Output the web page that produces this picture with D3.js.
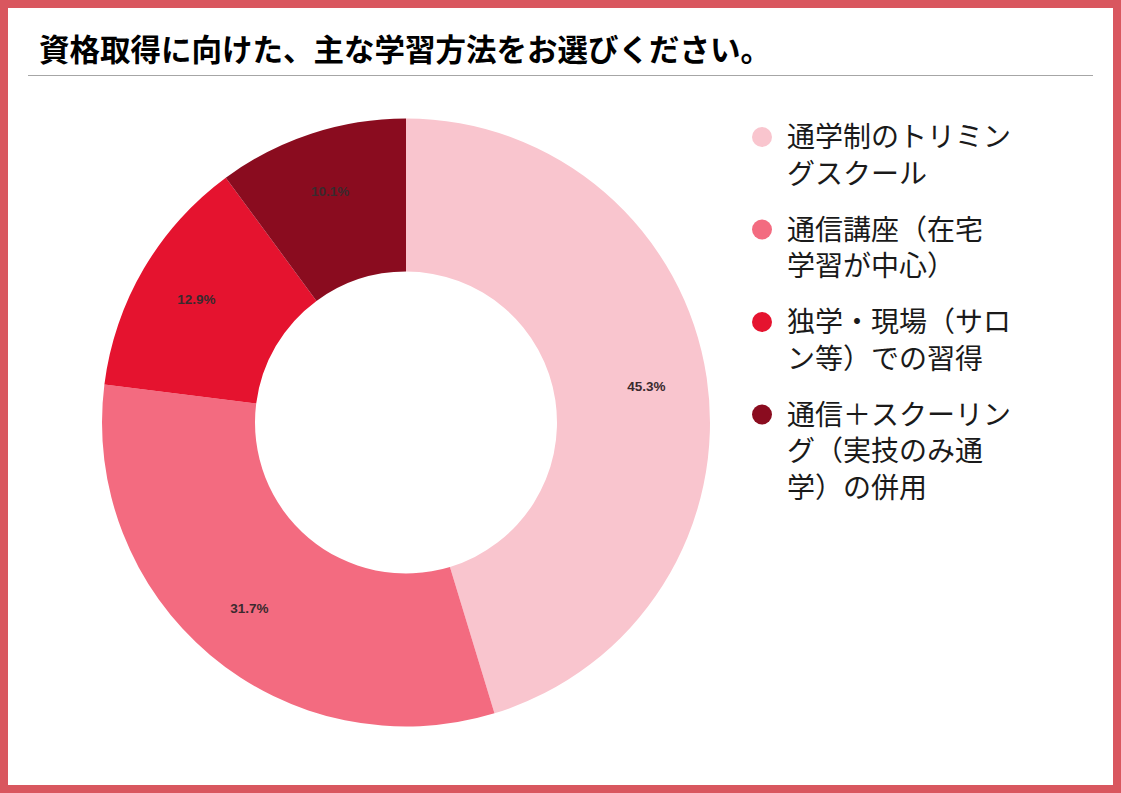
<!DOCTYPE html>
<html>
<head>
<meta charset="utf-8">
<script src="https://cdn.jsdelivr.net/npm/d3@7"></script>
<style>
  body { margin: 0; background: #fff; }
  svg { display: block; }
</style>
</head>
<body>
<div id="chart"></div>
<script>
// data
var title = "資格取得に向けた、主な学習方法をお選びください。";
var categories = ["通学制のトリミングスクール", "通信講座（在宅学習が中心）", "独学・現場（サロン等）での習得", "通信＋スクーリング（実技のみ通学）の併用"];
var legendLines = [
    ["通学制のトリミン", "グスクール"],
    ["通信講座（在宅", "学習が中心）"],
    ["独学・現場（サロ", "ン等）での習得"],
    ["通信＋スクーリン", "グ（実技のみ通", "学）の併用"]
];
var values = [45.3, 31.7, 12.9, 10.1];
var colors = ["#f9c5ce", "#f36b80", "#e5132f", "#8a0c1f"];

var width = 1121, height = 793;
var svg = d3.select("#chart").append("svg")
    .attr("width", width)
    .attr("height", height);

// frame
svg.append("rect")
    .attr("x", 4).attr("y", 4)
    .attr("width", width - 8).attr("height", height - 8)
    .attr("fill", "#fff")
    .attr("stroke", "#d9575f")
    .attr("stroke-width", 8);

// title
svg.append("text")
    .attr("x", 39)
    .attr("y", 61)
    .attr("font-family", "Noto Sans CJK JP")
    .attr("font-weight", 700)
    .attr("font-size", 30.5)
    .attr("fill", "#000")
    .text(title);

svg.append("line")
    .attr("x1", 28).attr("x2", 1093)
    .attr("y1", 75.5).attr("y2", 75.5)
    .attr("stroke", "#a6a6a6")
    .attr("stroke-width", 1);

// donut
var cx = 406, cy = 422.5, outerR = 304, innerR = 151;
var color = d3.scaleOrdinal().domain(categories).range(colors);

var pie = d3.pie().sort(null).value(function(d, i) { return values[i]; });
var arcs = pie(categories);

var arc = d3.arc().innerRadius(innerR).outerRadius(outerR);
var labelArc = d3.arc().innerRadius(243).outerRadius(243);

var g = svg.append("g")
    .attr("transform", "translate(" + cx + "," + cy + ")");

g.selectAll("path.slice")
    .data(arcs)
    .enter()
    .append("path")
    .attr("class", "slice")
    .attr("d", arc)
    .attr("fill", function(d) { return color(d.data); });

g.selectAll("text.pct")
    .data(arcs)
    .enter()
    .append("text")
    .attr("class", "pct")
    .attr("transform", function(d) { return "translate(" + labelArc.centroid(d) + ")"; })
    .attr("text-anchor", "middle")
    .attr("dy", "0.35em")
    .attr("font-family", "Liberation Sans")
    .attr("font-weight", 700)
    .attr("font-size", 13.5)
    .attr("fill", "#3a2a2e")
    .text(function(d) { return values[d.index].toFixed(1) + "%"; });

// legend
var lineH = 36.5, gap = 19.5;
var legendY = [];
var yy = 137;
legendLines.forEach(function(lines) {
    legendY.push(yy);
    yy += lines.length * lineH + gap;
});

var legend = svg.append("g").attr("class", "legend");
var items = legend.selectAll("g.item")
    .data(categories)
    .enter()
    .append("g")
    .attr("class", "item")
    .attr("transform", function(d, i) { return "translate(0," + legendY[i] + ")"; });

items.append("circle")
    .attr("cx", 762)
    .attr("cy", 0)
    .attr("r", 10)
    .attr("fill", function(d) { return color(d); });

items.append("text")
    .attr("font-family", "Noto Sans CJK JP")
    .attr("font-size", 28)
    .attr("fill", "#1a1a1a")
    .selectAll("tspan")
    .data(function(d, i) { return legendLines[i]; })
    .enter()
    .append("tspan")
    .attr("x", 787)
    .attr("y", function(d, j) { return j * lineH; })
    .attr("dy", "0.36em")
    .text(function(d) { return d; });
</script>
</body>
</html>
